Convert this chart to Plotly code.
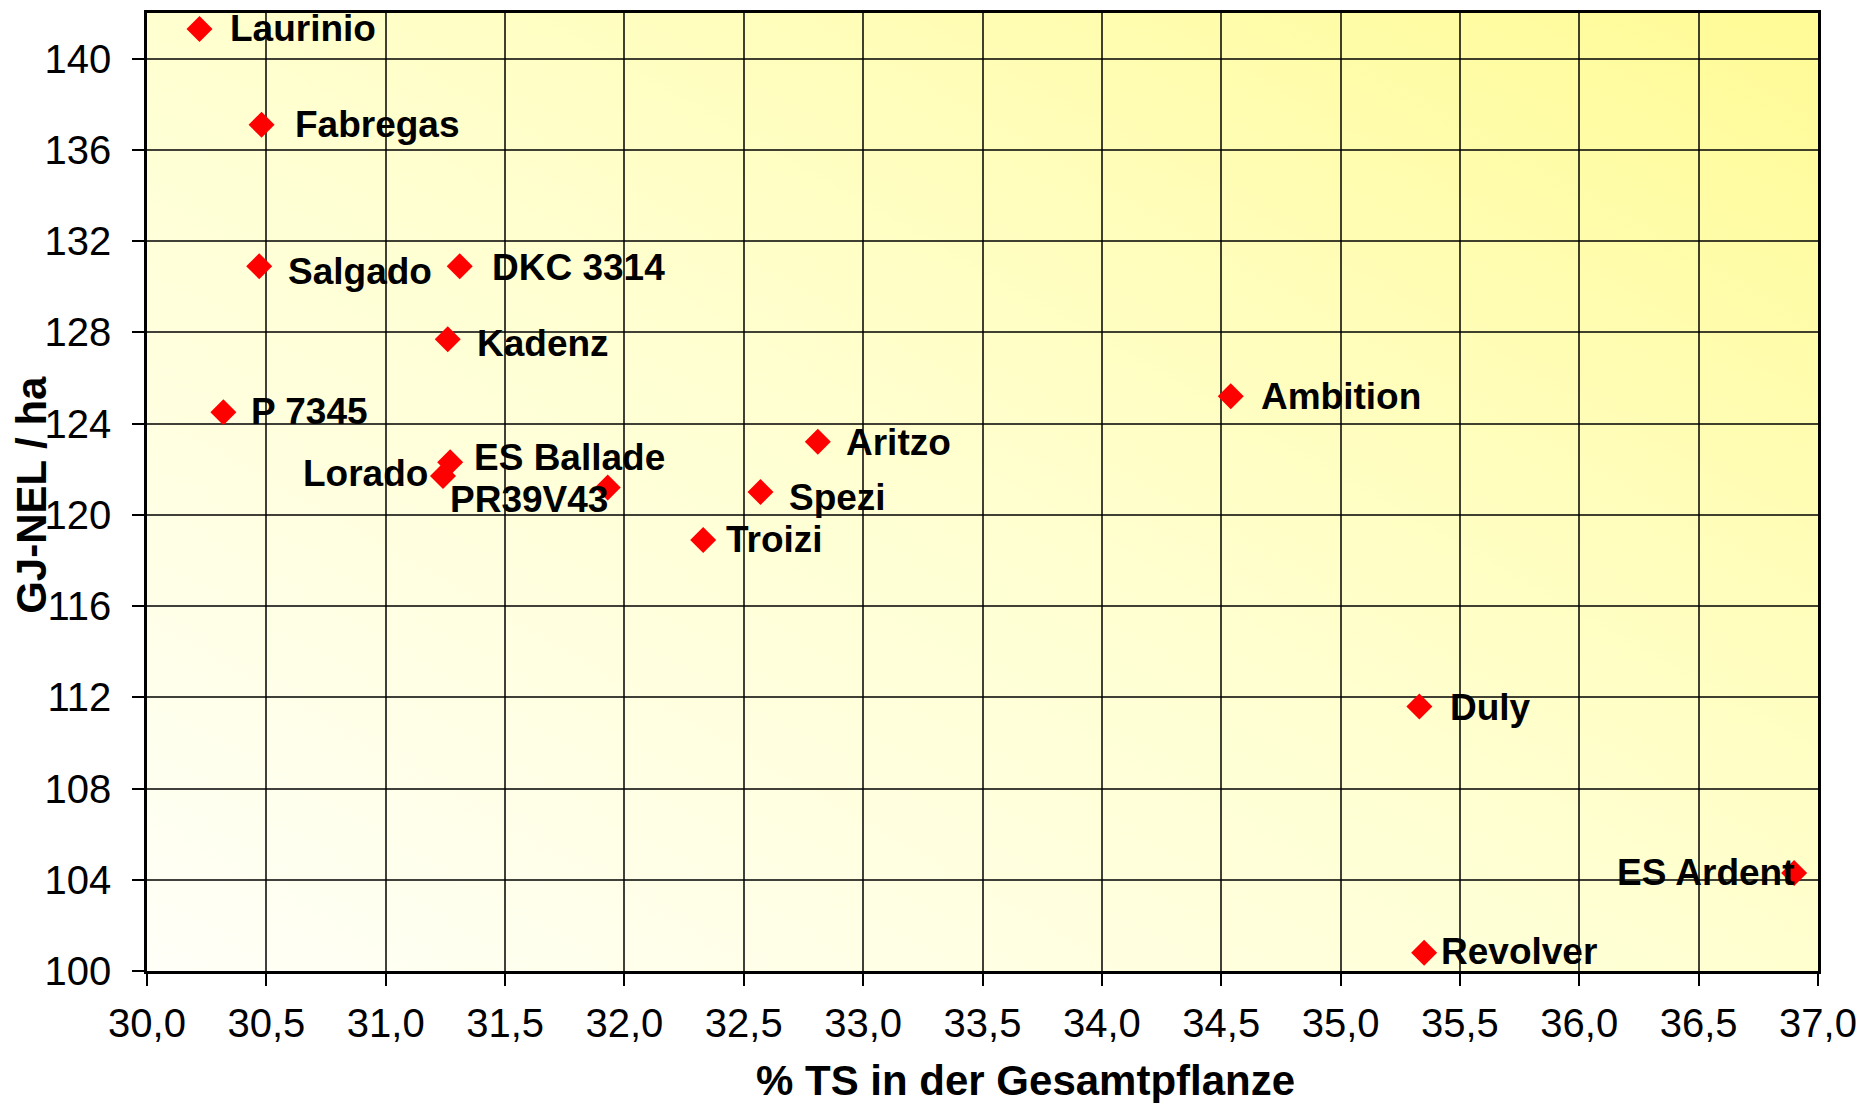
import base64
import plotly.graph_objects as go

# ---- data ----
varieties = ["Laurinio", "Fabregas", "Salgado", "DKC 3314", "Kadenz", "P 7345",
             "ES Ballade", "Lorado", "PR39V43", "Aritzo", "Spezi", "Troizi",
             "Ambition", "Duly", "ES Ardent", "Revolver"]
ts_percent = [30.22, 30.48, 30.47, 31.31, 31.26, 30.32,
              31.27, 31.24, 31.93, 32.81, 32.57, 32.33,
              34.54, 35.33, 36.90, 35.35]
gj_nel = [141.3, 137.1, 130.9, 130.9, 127.7, 124.5,
          122.3, 121.7, 121.2, 123.2, 121.0, 118.9,
          125.2, 111.6, 104.3, 100.8]
x_ticks = [30.0 + 0.5 * i for i in range(15)]
y_ticks = list(range(100, 141, 4))

# ---- label placement (style, px) ----
label_style = {
    "Laurinio": ("left", 28, 0), "Fabregas": ("left", 31, 0),
    "Salgado": ("left", 27, -5), "DKC 3314": ("left", 30, -1),
    "Kadenz": ("left", 27, -4), "P 7345": ("left", 26, 1),
    "ES Ballade": ("left", 22, 5), "Lorado": ("right", -13, 3),
    "PR39V43": ("right", 2, -12), "Aritzo": ("left", 26, -1),
    "Spezi": ("left", 26, -5), "Troizi": ("left", 21, 0),
    "Ambition": ("left", 28, 0), "Duly": ("left", 29, -1),
    "ES Ardent": ("right", 2, 0), "Revolver": ("left", 15, 1),
}

FONT = "Arial, Liberation Sans, sans-serif"

fig = go.Figure()
fig.add_trace(go.Scatter(
    x=ts_percent, y=gj_nel, mode="markers",
    marker=dict(symbol="diamond", size=20, color="#FF0000", line=dict(width=0)),
    hoverinfo="skip", showlegend=False,
))

annotations = []
for name, xv, yv in zip(varieties, ts_percent, gj_nel):
    anc, dx, dy = label_style[name]
    annotations.append(dict(
        x=xv, y=yv, xref="x", yref="y", text=name, showarrow=False,
        xanchor=anc, yanchor="middle", xshift=dx, yshift=dy,
        font=dict(family=FONT, size=37, color="black", weight=700),
    ))

annotations.append(dict(
    x=0.526, y=0, xref="paper", yref="paper", yshift=-109,
    text="% TS in der Gesamtpflanze", showarrow=False,
    xanchor="center", yanchor="middle",
    font=dict(family=FONT, size=42, color="black", weight=700),
))
annotations.append(dict(
    x=0, y=0.497, xref="paper", yref="paper", xshift=-115,
    text="GJ-NEL / ha", showarrow=False, textangle=-90,
    xanchor="center", yanchor="middle",
    font=dict(family=FONT, size=42, color="black", weight=700),
))

svg = ('<svg xmlns="http://www.w3.org/2000/svg" width="100" height="100" '
       'viewBox="0 0 100 100" preserveAspectRatio="none"><defs>'
       '<linearGradient id="g" x1="0" y1="1" x2="1" y2="0">'
       '<stop offset="0" stop-color="#FFFFF8"/>'
       '<stop offset="0.5" stop-color="#FFFFD0"/>'
       '<stop offset="1" stop-color="#FFFB96"/>'
       '</linearGradient></defs>'
       '<rect width="100" height="100" fill="url(#g)"/></svg>')
src = "data:image/svg+xml;base64," + base64.b64encode(svg.encode()).decode()

axis_common = dict(
    showgrid=True, gridcolor="rgba(0,0,0,0.75)", gridwidth=1.5,
    showline=True, linecolor="black", linewidth=2.5, mirror=True,
    ticks="outside", ticklen=12, tickwidth=1.5, tickcolor="black",
    zeroline=False,
    tickfont=dict(family=FONT, size=40, color="black"),
)

# page body has an 8px margin, so the figure is sized 8px smaller
fig.update_layout(
    width=1856, height=1095, autosize=False,
    margin=dict(l=139, r=46, t=2, b=132),
    paper_bgcolor="white", plot_bgcolor="rgba(0,0,0,0)",
    separators=",.",
    images=[dict(source=src, xref="paper", yref="paper", x=0, y=1,
                 sizex=1, sizey=1, sizing="stretch", layer="below",
                 xanchor="left", yanchor="top")],
    xaxis=dict(range=[30, 37], tickvals=x_ticks, tickformat=".1f",
               ticklabelstandoff=3, **axis_common),
    yaxis=dict(range=[100, 142], tickvals=y_ticks, tickformat="d",
               ticklabelstandoff=13, **axis_common),
    annotations=annotations,
    showlegend=False,
)

fig.write_html("out.html")
